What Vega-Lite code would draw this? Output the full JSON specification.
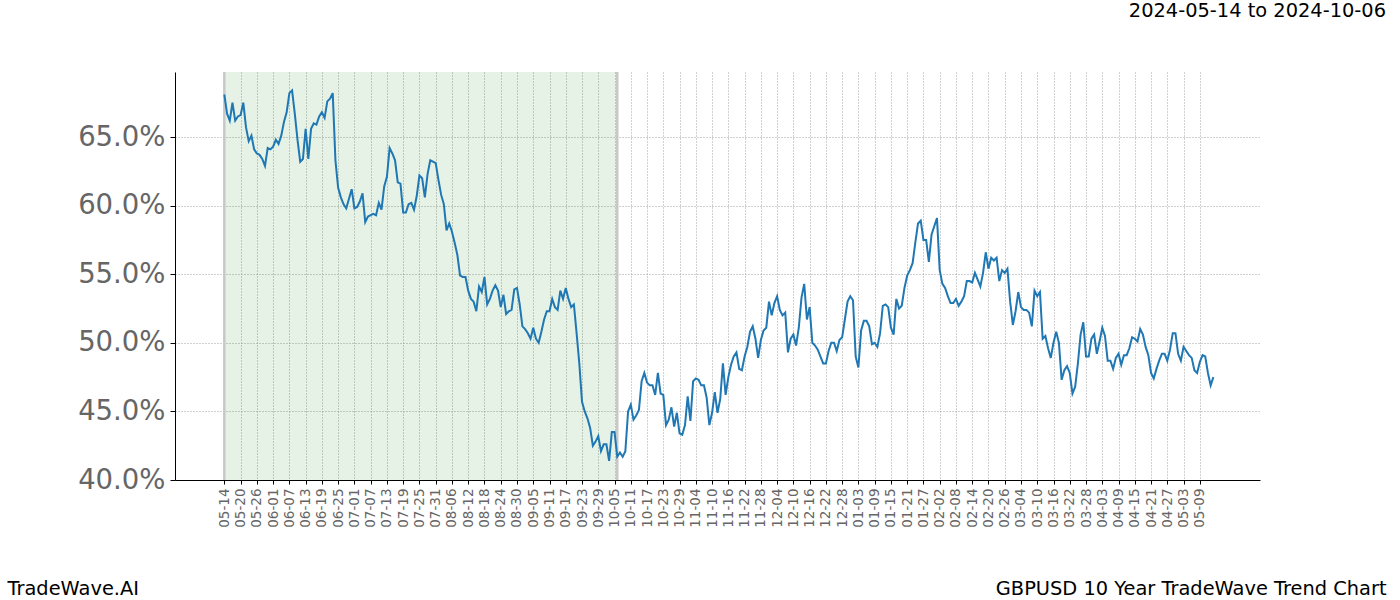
{
  "$schema": "https://vega.github.io/schema/vega-lite/v6.json",
  "width": 1085,
  "height": 408,
  "autosize": {"type": "none"},
  "padding": {"left": 175, "top": 72, "right": 140, "bottom": 120},
  "background": "white",
  "config": {
    "view": {"stroke": null},
    "font": "DejaVu Sans"
  },
  "title": {
    "text": "2024-05-14 to 2024-10-06",
    "anchor": "end",
    "frame": "group",
    "dx": 126,
    "offset": 30,
    "baseline": "bottom",
    "fontSize": 19.4,
    "fontWeight": "normal",
    "color": "#000000",
    "font": "DejaVu Sans"
  },
  "datasets": {
    "series": [
      {"date":"2024-05-14","v":0.681},{"date":"2024-05-15","v":0.667},{"date":"2024-05-16","v":0.662},{"date":"2024-05-17","v":0.675},{"date":"2024-05-18","v":0.662},{"date":"2024-05-19","v":0.665},{"date":"2024-05-20","v":0.666},{"date":"2024-05-21","v":0.675},{"date":"2024-05-22","v":0.657},{"date":"2024-05-23","v":0.647},{"date":"2024-05-24","v":0.651},{"date":"2024-05-25","v":0.641},{"date":"2024-05-26","v":0.638},{"date":"2024-05-27","v":0.637},{"date":"2024-05-28","v":0.634},{"date":"2024-05-29","v":0.629},{"date":"2024-05-30","v":0.642},{"date":"2024-05-31","v":0.641},
      {"date":"2024-06-01","v":0.643},{"date":"2024-06-02","v":0.648},{"date":"2024-06-03","v":0.645},{"date":"2024-06-04","v":0.651},{"date":"2024-06-05","v":0.661},{"date":"2024-06-06","v":0.668},{"date":"2024-06-07","v":0.682},{"date":"2024-06-08","v":0.684},{"date":"2024-06-09","v":0.667},{"date":"2024-06-10","v":0.648},{"date":"2024-06-11","v":0.632},{"date":"2024-06-12","v":0.634},{"date":"2024-06-13","v":0.656},{"date":"2024-06-14","v":0.634},{"date":"2024-06-15","v":0.656},{"date":"2024-06-16","v":0.660},{"date":"2024-06-17","v":0.659},{"date":"2024-06-18","v":0.665},{"date":"2024-06-19","v":0.668},{"date":"2024-06-20","v":0.664},{"date":"2024-06-21","v":0.676},{"date":"2024-06-22","v":0.678},{"date":"2024-06-23","v":0.682},{"date":"2024-06-24","v":0.633},{"date":"2024-06-25","v":0.613},{"date":"2024-06-26","v":0.606},{"date":"2024-06-27","v":0.601},{"date":"2024-06-28","v":0.598},{"date":"2024-06-29","v":0.605},{"date":"2024-06-30","v":0.612},
      {"date":"2024-07-01","v":0.598},{"date":"2024-07-02","v":0.599},{"date":"2024-07-03","v":0.603},{"date":"2024-07-04","v":0.609},{"date":"2024-07-05","v":0.588},{"date":"2024-07-06","v":0.592},{"date":"2024-07-07","v":0.593},{"date":"2024-07-08","v":0.594},{"date":"2024-07-09","v":0.593},{"date":"2024-07-10","v":0.602},{"date":"2024-07-11","v":0.597},{"date":"2024-07-12","v":0.614},{"date":"2024-07-13","v":0.621},{"date":"2024-07-14","v":0.642},{"date":"2024-07-15","v":0.638},{"date":"2024-07-16","v":0.633},{"date":"2024-07-17","v":0.617},{"date":"2024-07-18","v":0.616},{"date":"2024-07-19","v":0.595},{"date":"2024-07-20","v":0.595},{"date":"2024-07-21","v":0.601},{"date":"2024-07-22","v":0.602},{"date":"2024-07-23","v":0.597},{"date":"2024-07-24","v":0.607},{"date":"2024-07-25","v":0.622},{"date":"2024-07-26","v":0.620},{"date":"2024-07-27","v":0.606},{"date":"2024-07-28","v":0.623},{"date":"2024-07-29","v":0.633},{"date":"2024-07-30","v":0.632},{"date":"2024-07-31","v":0.631},
      {"date":"2024-08-01","v":0.619},{"date":"2024-08-02","v":0.608},{"date":"2024-08-03","v":0.601},{"date":"2024-08-04","v":0.582},{"date":"2024-08-05","v":0.587},{"date":"2024-08-06","v":0.581},{"date":"2024-08-07","v":0.573},{"date":"2024-08-08","v":0.564},{"date":"2024-08-09","v":0.549},{"date":"2024-08-10","v":0.548},{"date":"2024-08-11","v":0.548},{"date":"2024-08-12","v":0.538},{"date":"2024-08-13","v":0.532},{"date":"2024-08-14","v":0.530},{"date":"2024-08-15","v":0.523},{"date":"2024-08-16","v":0.541},{"date":"2024-08-17","v":0.537},{"date":"2024-08-18","v":0.548},{"date":"2024-08-19","v":0.528},{"date":"2024-08-20","v":0.532},{"date":"2024-08-21","v":0.538},{"date":"2024-08-22","v":0.542},{"date":"2024-08-23","v":0.538},{"date":"2024-08-24","v":0.526},{"date":"2024-08-25","v":0.535},{"date":"2024-08-26","v":0.521},{"date":"2024-08-27","v":0.523},{"date":"2024-08-28","v":0.524},{"date":"2024-08-29","v":0.539},{"date":"2024-08-30","v":0.540},{"date":"2024-08-31","v":0.528},
      {"date":"2024-09-01","v":0.512},{"date":"2024-09-02","v":0.510},{"date":"2024-09-03","v":0.507},{"date":"2024-09-04","v":0.503},{"date":"2024-09-05","v":0.511},{"date":"2024-09-06","v":0.503},{"date":"2024-09-07","v":0.500},{"date":"2024-09-08","v":0.508},{"date":"2024-09-09","v":0.517},{"date":"2024-09-10","v":0.523},{"date":"2024-09-11","v":0.523},{"date":"2024-09-12","v":0.532},{"date":"2024-09-13","v":0.526},{"date":"2024-09-14","v":0.524},{"date":"2024-09-15","v":0.538},{"date":"2024-09-16","v":0.532},{"date":"2024-09-17","v":0.540},{"date":"2024-09-18","v":0.532},{"date":"2024-09-19","v":0.526},{"date":"2024-09-20","v":0.528},{"date":"2024-09-21","v":0.507},{"date":"2024-09-22","v":0.485},{"date":"2024-09-23","v":0.457},{"date":"2024-09-24","v":0.450},{"date":"2024-09-25","v":0.445},{"date":"2024-09-26","v":0.438},{"date":"2024-09-27","v":0.425},{"date":"2024-09-28","v":0.428},{"date":"2024-09-29","v":0.432},{"date":"2024-09-30","v":0.421},
      {"date":"2024-10-01","v":0.426},{"date":"2024-10-02","v":0.426},{"date":"2024-10-03","v":0.414},{"date":"2024-10-04","v":0.435},{"date":"2024-10-05","v":0.435},{"date":"2024-10-06","v":0.417},{"date":"2024-10-07","v":0.420},{"date":"2024-10-08","v":0.417},{"date":"2024-10-09","v":0.421},{"date":"2024-10-10","v":0.450},{"date":"2024-10-11","v":0.455},{"date":"2024-10-12","v":0.444},{"date":"2024-10-13","v":0.447},{"date":"2024-10-14","v":0.451},{"date":"2024-10-15","v":0.472},{"date":"2024-10-16","v":0.478},{"date":"2024-10-17","v":0.471},{"date":"2024-10-18","v":0.469},{"date":"2024-10-19","v":0.469},{"date":"2024-10-20","v":0.462},{"date":"2024-10-21","v":0.478},{"date":"2024-10-22","v":0.463},{"date":"2024-10-23","v":0.462},{"date":"2024-10-24","v":0.440},{"date":"2024-10-25","v":0.444},{"date":"2024-10-26","v":0.453},{"date":"2024-10-27","v":0.439},{"date":"2024-10-28","v":0.449},{"date":"2024-10-29","v":0.434},{"date":"2024-10-30","v":0.433},{"date":"2024-10-31","v":0.440},
      {"date":"2024-11-01","v":0.461},{"date":"2024-11-02","v":0.443},{"date":"2024-11-03","v":0.472},{"date":"2024-11-04","v":0.474},{"date":"2024-11-05","v":0.473},{"date":"2024-11-06","v":0.469},{"date":"2024-11-07","v":0.469},{"date":"2024-11-08","v":0.460},{"date":"2024-11-09","v":0.440},{"date":"2024-11-10","v":0.449},{"date":"2024-11-11","v":0.464},{"date":"2024-11-12","v":0.449},{"date":"2024-11-13","v":0.459},{"date":"2024-11-14","v":0.485},{"date":"2024-11-15","v":0.462},{"date":"2024-11-16","v":0.475},{"date":"2024-11-17","v":0.484},{"date":"2024-11-18","v":0.490},{"date":"2024-11-19","v":0.493},{"date":"2024-11-20","v":0.481},{"date":"2024-11-21","v":0.480},{"date":"2024-11-22","v":0.490},{"date":"2024-11-23","v":0.497},{"date":"2024-11-24","v":0.508},{"date":"2024-11-25","v":0.512},{"date":"2024-11-26","v":0.503},{"date":"2024-11-27","v":0.489},{"date":"2024-11-28","v":0.502},{"date":"2024-11-29","v":0.509},{"date":"2024-11-30","v":0.511},
      {"date":"2024-12-01","v":0.530},{"date":"2024-12-02","v":0.520},{"date":"2024-12-03","v":0.529},{"date":"2024-12-04","v":0.534},{"date":"2024-12-05","v":0.524},{"date":"2024-12-06","v":0.520},{"date":"2024-12-07","v":0.522},{"date":"2024-12-08","v":0.493},{"date":"2024-12-09","v":0.503},{"date":"2024-12-10","v":0.506},{"date":"2024-12-11","v":0.498},{"date":"2024-12-12","v":0.511},{"date":"2024-12-13","v":0.533},{"date":"2024-12-14","v":0.543},{"date":"2024-12-15","v":0.517},{"date":"2024-12-16","v":0.526},{"date":"2024-12-17","v":0.500},{"date":"2024-12-18","v":0.498},{"date":"2024-12-19","v":0.495},{"date":"2024-12-20","v":0.490},{"date":"2024-12-21","v":0.485},{"date":"2024-12-22","v":0.485},{"date":"2024-12-23","v":0.494},{"date":"2024-12-24","v":0.500},{"date":"2024-12-25","v":0.500},{"date":"2024-12-26","v":0.494},{"date":"2024-12-27","v":0.502},{"date":"2024-12-28","v":0.504},{"date":"2024-12-29","v":0.517},{"date":"2024-12-30","v":0.530},{"date":"2024-12-31","v":0.534},
      {"date":"2025-01-01","v":0.531},{"date":"2025-01-02","v":0.490},{"date":"2025-01-03","v":0.482},{"date":"2025-01-04","v":0.509},{"date":"2025-01-05","v":0.516},{"date":"2025-01-06","v":0.516},{"date":"2025-01-07","v":0.512},{"date":"2025-01-08","v":0.499},{"date":"2025-01-09","v":0.500},{"date":"2025-01-10","v":0.497},{"date":"2025-01-11","v":0.507},{"date":"2025-01-12","v":0.527},{"date":"2025-01-13","v":0.528},{"date":"2025-01-14","v":0.526},{"date":"2025-01-15","v":0.511},{"date":"2025-01-16","v":0.506},{"date":"2025-01-17","v":0.532},{"date":"2025-01-18","v":0.525},{"date":"2025-01-19","v":0.527},{"date":"2025-01-20","v":0.540},{"date":"2025-01-21","v":0.549},{"date":"2025-01-22","v":0.553},{"date":"2025-01-23","v":0.558},{"date":"2025-01-24","v":0.573},{"date":"2025-01-25","v":0.587},{"date":"2025-01-26","v":0.589},{"date":"2025-01-27","v":0.575},{"date":"2025-01-28","v":0.575},{"date":"2025-01-29","v":0.559},{"date":"2025-01-30","v":0.579},{"date":"2025-01-31","v":0.585},
      {"date":"2025-02-01","v":0.591},{"date":"2025-02-02","v":0.553},{"date":"2025-02-03","v":0.543},{"date":"2025-02-04","v":0.540},{"date":"2025-02-05","v":0.534},{"date":"2025-02-06","v":0.529},{"date":"2025-02-07","v":0.529},{"date":"2025-02-08","v":0.532},{"date":"2025-02-09","v":0.527},{"date":"2025-02-10","v":0.530},{"date":"2025-02-11","v":0.534},{"date":"2025-02-12","v":0.545},{"date":"2025-02-13","v":0.545},{"date":"2025-02-14","v":0.544},{"date":"2025-02-15","v":0.551},{"date":"2025-02-16","v":0.546},{"date":"2025-02-17","v":0.541},{"date":"2025-02-18","v":0.551},{"date":"2025-02-19","v":0.566},{"date":"2025-02-20","v":0.554},{"date":"2025-02-21","v":0.562},{"date":"2025-02-22","v":0.560},{"date":"2025-02-23","v":0.562},{"date":"2025-02-24","v":0.545},{"date":"2025-02-25","v":0.553},{"date":"2025-02-26","v":0.551},{"date":"2025-02-27","v":0.554},{"date":"2025-02-28","v":0.530},
      {"date":"2025-03-01","v":0.513},{"date":"2025-03-02","v":0.523},{"date":"2025-03-03","v":0.537},{"date":"2025-03-04","v":0.526},{"date":"2025-03-05","v":0.524},{"date":"2025-03-06","v":0.524},{"date":"2025-03-07","v":0.522},{"date":"2025-03-08","v":0.512},{"date":"2025-03-09","v":0.538},{"date":"2025-03-10","v":0.534},{"date":"2025-03-11","v":0.537},{"date":"2025-03-12","v":0.503},{"date":"2025-03-13","v":0.505},{"date":"2025-03-14","v":0.496},{"date":"2025-03-15","v":0.489},{"date":"2025-03-16","v":0.500},{"date":"2025-03-17","v":0.508},{"date":"2025-03-18","v":0.500},{"date":"2025-03-19","v":0.473},{"date":"2025-03-20","v":0.480},{"date":"2025-03-21","v":0.483},{"date":"2025-03-22","v":0.478},{"date":"2025-03-23","v":0.463},{"date":"2025-03-24","v":0.468},{"date":"2025-03-25","v":0.485},{"date":"2025-03-26","v":0.506},{"date":"2025-03-27","v":0.515},{"date":"2025-03-28","v":0.490},{"date":"2025-03-29","v":0.490},{"date":"2025-03-30","v":0.503},{"date":"2025-03-31","v":0.506},
      {"date":"2025-04-01","v":0.492},{"date":"2025-04-02","v":0.501},{"date":"2025-04-03","v":0.511},{"date":"2025-04-04","v":0.505},{"date":"2025-04-05","v":0.487},{"date":"2025-04-06","v":0.487},{"date":"2025-04-07","v":0.481},{"date":"2025-04-08","v":0.489},{"date":"2025-04-09","v":0.492},{"date":"2025-04-10","v":0.484},{"date":"2025-04-11","v":0.491},{"date":"2025-04-12","v":0.491},{"date":"2025-04-13","v":0.496},{"date":"2025-04-14","v":0.504},{"date":"2025-04-15","v":0.503},{"date":"2025-04-16","v":0.501},{"date":"2025-04-17","v":0.510},{"date":"2025-04-18","v":0.506},{"date":"2025-04-19","v":0.497},{"date":"2025-04-20","v":0.491},{"date":"2025-04-21","v":0.478},{"date":"2025-04-22","v":0.474},{"date":"2025-04-23","v":0.481},{"date":"2025-04-24","v":0.487},{"date":"2025-04-25","v":0.492},{"date":"2025-04-26","v":0.492},{"date":"2025-04-27","v":0.487},{"date":"2025-04-28","v":0.495},{"date":"2025-04-29","v":0.507},{"date":"2025-04-30","v":0.507},
      {"date":"2025-05-01","v":0.492},{"date":"2025-05-02","v":0.487},{"date":"2025-05-03","v":0.497},{"date":"2025-05-04","v":0.494},{"date":"2025-05-05","v":0.491},{"date":"2025-05-06","v":0.489},{"date":"2025-05-07","v":0.480},{"date":"2025-05-08","v":0.478},{"date":"2025-05-09","v":0.486},{"date":"2025-05-10","v":0.491},{"date":"2025-05-11","v":0.490},{"date":"2025-05-12","v":0.478},{"date":"2025-05-13","v":0.469},{"date":"2025-05-14","v":0.475}
    ]
  },
  "encoding": {
    "x": {
      "field": "date",
      "type": "temporal",
      "scale": {
        "type": "utc",
        "domain": [
          {"year": 2024, "month": 4, "date": 25, "hours": 19, "utc": true},
          {"year": 2025, "month": 5, "date": 31, "hours": 5, "utc": true}
        ]
      },
      "axis": {
        "title": "GBPUSD 10 Year TradeWave Trend Chart",
        "titleX": 1211,
        "titleY": 108,
        "titleAlign": "right",
        "titleBaseline": "middle",
        "titleAnchor": null,
        "titleFontSize": 19.4,
        "titleFontWeight": "normal",
        "titleColor": "#000000",
        "titleFont": "DejaVu Sans",
        "format": "%m-%d",
        "labelAngle": -90,
        "labelAlign": "right",
        "labelBaseline": "middle",
        "labelFontSize": 13.5,
        "labelColor": "#666666",
        "labelFont": "DejaVu Sans",
        "labelPadding": 4,
        "labelOverlap": false,
        "labelFlush": false,
        "labelBound": false,
        "tickColor": "#000000",
        "tickSize": 4,
        "tickWidth": 1,
        "domainColor": "#000000",
        "domainWidth": 1,
        "grid": true,
        "gridColor": "#a0a0a0",
        "gridDash": [1, 2],
        "gridWidth": 1,
        "values": [
          {"year":2024,"month":5,"date":14,"utc":true},{"year":2024,"month":5,"date":20,"utc":true},{"year":2024,"month":5,"date":26,"utc":true},
          {"year":2024,"month":6,"date":1,"utc":true},{"year":2024,"month":6,"date":7,"utc":true},{"year":2024,"month":6,"date":13,"utc":true},{"year":2024,"month":6,"date":19,"utc":true},{"year":2024,"month":6,"date":25,"utc":true},
          {"year":2024,"month":7,"date":1,"utc":true},{"year":2024,"month":7,"date":7,"utc":true},{"year":2024,"month":7,"date":13,"utc":true},{"year":2024,"month":7,"date":19,"utc":true},{"year":2024,"month":7,"date":25,"utc":true},{"year":2024,"month":7,"date":31,"utc":true},
          {"year":2024,"month":8,"date":6,"utc":true},{"year":2024,"month":8,"date":12,"utc":true},{"year":2024,"month":8,"date":18,"utc":true},{"year":2024,"month":8,"date":24,"utc":true},{"year":2024,"month":8,"date":30,"utc":true},
          {"year":2024,"month":9,"date":5,"utc":true},{"year":2024,"month":9,"date":11,"utc":true},{"year":2024,"month":9,"date":17,"utc":true},{"year":2024,"month":9,"date":23,"utc":true},{"year":2024,"month":9,"date":29,"utc":true},
          {"year":2024,"month":10,"date":5,"utc":true},{"year":2024,"month":10,"date":11,"utc":true},{"year":2024,"month":10,"date":17,"utc":true},{"year":2024,"month":10,"date":23,"utc":true},{"year":2024,"month":10,"date":29,"utc":true},
          {"year":2024,"month":11,"date":4,"utc":true},{"year":2024,"month":11,"date":10,"utc":true},{"year":2024,"month":11,"date":16,"utc":true},{"year":2024,"month":11,"date":22,"utc":true},{"year":2024,"month":11,"date":28,"utc":true},
          {"year":2024,"month":12,"date":4,"utc":true},{"year":2024,"month":12,"date":10,"utc":true},{"year":2024,"month":12,"date":16,"utc":true},{"year":2024,"month":12,"date":22,"utc":true},{"year":2024,"month":12,"date":28,"utc":true},
          {"year":2025,"month":1,"date":3,"utc":true},{"year":2025,"month":1,"date":9,"utc":true},{"year":2025,"month":1,"date":15,"utc":true},{"year":2025,"month":1,"date":21,"utc":true},{"year":2025,"month":1,"date":27,"utc":true},
          {"year":2025,"month":2,"date":2,"utc":true},{"year":2025,"month":2,"date":8,"utc":true},{"year":2025,"month":2,"date":14,"utc":true},{"year":2025,"month":2,"date":20,"utc":true},{"year":2025,"month":2,"date":26,"utc":true},
          {"year":2025,"month":3,"date":4,"utc":true},{"year":2025,"month":3,"date":10,"utc":true},{"year":2025,"month":3,"date":16,"utc":true},{"year":2025,"month":3,"date":22,"utc":true},{"year":2025,"month":3,"date":28,"utc":true},
          {"year":2025,"month":4,"date":3,"utc":true},{"year":2025,"month":4,"date":9,"utc":true},{"year":2025,"month":4,"date":15,"utc":true},{"year":2025,"month":4,"date":21,"utc":true},{"year":2025,"month":4,"date":27,"utc":true},
          {"year":2025,"month":5,"date":3,"utc":true},{"year":2025,"month":5,"date":9,"utc":true}
        ]
      }
    }
  },
  "layer": [
    {
      "data": {"values": [{"date": "2024-05-14", "date2": "2024-10-06"}]},
      "mark": {"type": "rect", "fill": "#008000", "fillOpacity": 0.1},
      "encoding": {
        "x2": {"field": "date2"}
      }
    },
    {
      "data": {"values": [{"date": "2024-05-14"}, {"date": "2024-10-06"}]},
      "mark": {"type": "rule", "color": "#c8c8c8", "strokeWidth": 2.5},
      "encoding": {}
    },
    {
      "data": {"name": "series"},
      "mark": {"type": "line", "color": "#1f77b4", "strokeWidth": 2, "interpolate": "linear"},
      "encoding": {
        "y": {
          "field": "v",
          "type": "quantitative",
          "scale": {"domain": [0.40, 0.6974], "zero": false, "nice": false},
          "axis": {
            "title": "TradeWave.AI",
            "titleAngle": 0,
            "titleX": -168,
            "titleY": 516,
            "titleAlign": "left",
            "titleBaseline": "middle",
            "titleAnchor": null,
            "titleFontSize": 19.4,
            "titleFontWeight": "normal",
            "titleColor": "#000000",
            "titleFont": "DejaVu Sans",
            "values": [0.40, 0.45, 0.50, 0.55, 0.60, 0.65],
            "format": ".1%",
            "labelFontSize": 27.5,
            "labelColor": "#666666",
            "labelFont": "DejaVu Sans",
            "labelPadding": 5,
            "labelLimit": 300,
            "tickColor": "#000000",
            "tickSize": 5,
            "tickWidth": 1,
            "domainColor": "#000000",
            "domainWidth": 1,
            "grid": true,
            "gridColor": "#a0a0a0",
            "gridDash": [1, 2],
            "gridWidth": 1
          }
        }
      }
    }
  ]
}
